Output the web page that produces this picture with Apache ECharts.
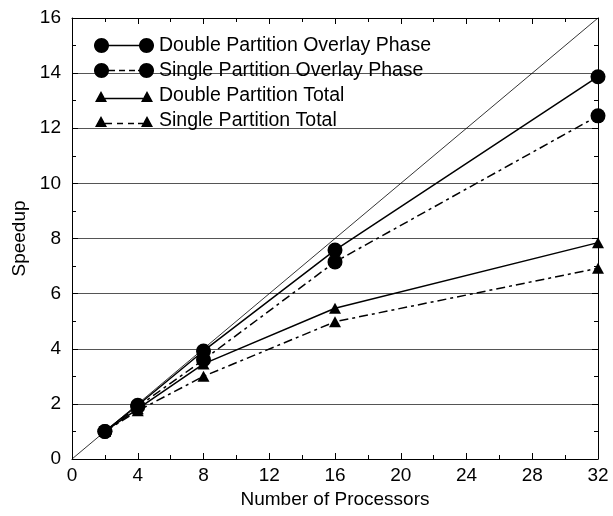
<!DOCTYPE html>
<html>
<head>
<meta charset="utf-8">
<script src="https://cdn.jsdelivr.net/npm/echarts@6/dist/echarts.min.js"></script>
<style>html,body{margin:0;padding:0;background:#fff}#c{width:613px;height:516px}</style>
</head>
<body>
<div id="c"></div>
<script>
var processors = [2, 4, 8, 16, 32];
var doubleOverlay = [1.0, 1.95, 3.92, 7.58, 13.87];
var singleOverlay = [1.0, 1.9, 3.6, 7.15, 12.45];
var doubleTotal = [1.0, 1.82, 3.45, 5.47, 7.85];
var singleTotal = [1.0, 1.75, 3.0, 4.98, 6.92];
var idealX = [0, 32];
var idealY = [0, 16];
var seriesNames = ['Double Partition Overlay Phase', 'Single Partition Overlay Phase', 'Double Partition Total', 'Single Partition Total'];
var xTicks = [0, 4, 8, 12, 16, 20, 24, 28, 32];
var yTicks = [0, 2, 4, 6, 8, 10, 12, 14, 16];

function pairs(xs, ys) { return xs.map(function (x, i) { return [x, ys[i]]; }); }

var FONT = '"Liberation Sans", Arial, Helvetica, sans-serif';
function circlePath(cx, cy, r) {
  var s = '';
  for (var k = 0; k < 32; k++) {
    var a = k / 32 * Math.PI * 2;
    s += (k === 0 ? 'M' : 'L') + (cx + r * Math.cos(a)).toFixed(3) + ',' + (cy + r * Math.sin(a)).toFixed(3) + ' ';
  }
  return s + 'Z ';
}
function rect(x0, y0, x1, y1) {
  return 'M' + x0 + ',' + y0 + ' L' + x1 + ',' + y0 + ' L' + x1 + ',' + y1 + ' L' + x0 + ',' + y1 + ' Z ';
}
var pin = 'M0,0 L0.01,0 L0.01,0.01 Z M60,15 L59.99,15 L59.99,14.99 Z ';
var circL = circlePath(7.5, 7.5, 7.5);
var circR = circlePath(52.5, 7.5, 7.5);
var triL = 'M1,14 L7,3 L13,14 Z ';
var triR = 'M47,14 L53,3 L59,14 Z ';
var iconDO = 'path://' + pin + circL + rect(14, 6.75, 46, 8.25) + circR;
var iconSO = 'path://' + pin + circL + rect(14, 6.75, 21, 8.25) + rect(25, 6.75, 31, 8.25) + rect(35, 6.75, 41, 8.25) + rect(44, 6.75, 46, 8.25) + circR;
var iconDT = 'path://' + pin + triL + rect(11, 9.75, 49, 11.25) + triR;
var iconST = 'path://' + pin + triL + rect(11, 9.75, 18, 11.25) + rect(23, 9.75, 29, 11.25) + rect(34, 9.75, 40, 11.25) + rect(44, 9.75, 49, 11.25) + triR;

var dashDot = [9, 4, 3, 4];

function mkSeries(name, ys, symbol, size, dashed) {
  return {
    name: name, type: 'line', data: pairs(processors, ys),
    symbol: symbol, symbolSize: size,
    itemStyle: { color: '#000' },
    lineStyle: { color: '#000', width: 1.5, type: dashed ? dashDot : 'solid' },
    z: 3, animation: false
  };
}

var axisCommon = {
  type: 'value',
  axisLine: { show: true, onZero: false, lineStyle: { color: '#000', width: 1 } },
  axisTick: { show: true, inside: true, length: 6, lineStyle: { color: '#000' } },
  minorTick: { show: true, splitNumber: 2, length: 4, lineStyle: { color: '#000' } },
  splitLine: { show: false }
};

var chart = echarts.init(document.getElementById('c'));
chart.setOption({
  animation: false,
  backgroundColor: '#fff',
  grid: { left: 72, right: 15, top: 18, bottom: 57, containLabel: false },
  legend: {
    orient: 'vertical', left: 94, top: 35.5, padding: 0,
    itemWidth: 60, itemHeight: 15, itemGap: 5,
    textStyle: { fontFamily: FONT, fontSize: 19.5, color: '#000' },
    itemStyle: { color: '#000', borderWidth: 0 },
    data: [
      { name: seriesNames[0], icon: iconDO },
      { name: seriesNames[1], icon: iconSO },
      { name: seriesNames[2], icon: iconDT },
      { name: seriesNames[3], icon: iconST }
    ]
  },
  xAxis: [
    Object.assign({}, axisCommon, {
      position: 'bottom', min: xTicks[0], max: xTicks[xTicks.length - 1], interval: 4,
      name: 'Number of Processors', nameLocation: 'middle', nameGap: 31,
      nameTextStyle: { fontFamily: FONT, fontSize: 19, color: '#000' },
      axisLabel: { fontFamily: FONT, fontSize: 19, color: '#000', margin: 7 }
    }),
    Object.assign({}, axisCommon, {
      position: 'top', min: xTicks[0], max: xTicks[xTicks.length - 1], interval: 4,
      axisLabel: { show: false }
    })
  ],
  yAxis: [
    Object.assign({}, axisCommon, {
      position: 'left', min: yTicks[0], max: yTicks[yTicks.length - 1], interval: 2,
      name: 'Speedup', nameLocation: 'middle', nameGap: 42, nameRotate: 90,
      nameTextStyle: { fontFamily: FONT, fontSize: 19, color: '#000' },
      axisLabel: { fontFamily: FONT, fontSize: 19, color: '#000', margin: 11 },
      splitLine: { show: true, lineStyle: { color: '#555', width: 1 } }
    }),
    Object.assign({}, axisCommon, {
      position: 'right', min: yTicks[0], max: yTicks[yTicks.length - 1], interval: 2,
      axisLabel: { show: false }
    })
  ],
  series: [
    {
      name: 'ideal', type: 'line', data: pairs(idealX, idealY), symbol: 'none',
      lineStyle: { color: '#000', width: 0.8 }, z: 2, silent: true, animation: false
    },
    mkSeries(seriesNames[0], doubleOverlay, 'circle', 15, false),
    mkSeries(seriesNames[1], singleOverlay, 'circle', 15, true),
    mkSeries(seriesNames[2], doubleTotal, 'triangle', [12, 11], false),
    mkSeries(seriesNames[3], singleTotal, 'triangle', [12, 11], true)
  ]
});
</script>
</body>
</html>
